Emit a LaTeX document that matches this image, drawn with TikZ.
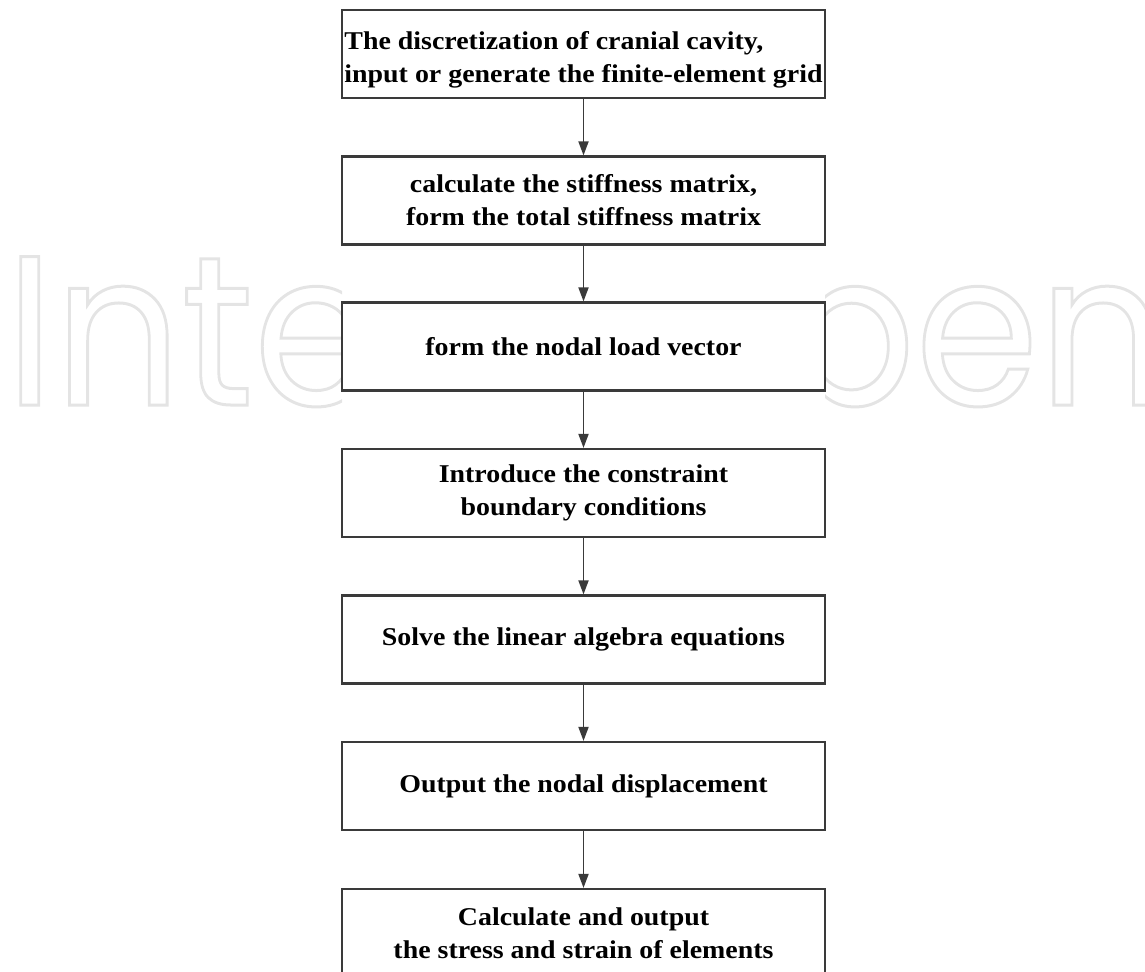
\documentclass[tikz,border=0pt]{standalone}
\usepackage{fontspec}
\setmainfont{Liberation Serif}[FakeStretch=1.09]
\newfontfamily\wmfont{Poppins}
\usetikzlibrary{arrows.meta}
\definecolor{boxgray}{HTML}{3A3A3A}
\definecolor{wmgray}{HTML}{E4E4E4}
\tikzset{
  flowbox/.style={draw=boxgray, line width=1.1pt, fill=white, minimum width=241.5pt, minimum height=44pt,
    inner sep=1pt, font=\fontsize{12.8}{16.5}\selectfont\bfseries, align=center},
  flowarrow/.style={-{Triangle[length=7pt,width=5pt]}, line width=0.9pt, draw=boxgray},
}
\begin{document}
\begin{tikzpicture}[x=0.5pt, y=-0.5pt]
  \useasboundingbox (0,0) rectangle (1145,971);
  \clip (0,0) rectangle (1145,971);
  % watermark, hidden in the column of the chart
  \begin{scope}
    \clip (0,0) rectangle (342,971) (825,0) rectangle (1145,971);
    \node[anchor=base west, inner sep=0pt, xscale=0.933, text=wmgray, font=\wmfont\fontsize{106.5}{106.5}\selectfont] (wm) at (5,405)
      {\special{pdf:literal direct 1 Tr 1.5 w}IntechOpen\special{pdf:literal direct 0 Tr}};
  \end{scope}
  % steps, top to bottom
  \node[flowbox, align=left] (grid) at (583.5,54) {\rule{0pt}{15pt}The discretization of cranial cavity,\\input or generate the finite-element grid};
  \node[flowbox] (stiff) at (583.5,200.5) {calculate the stiffness matrix,\\form the total stiffness matrix};
  \node[flowbox] (load) at (583.5,346.5) {form the nodal load vector};
  \node[flowbox] (bound) at (583.5,493) {Introduce the constraint\\ boundary conditions};
  \node[flowbox] (solve) at (583.5,639.5) {Solve the linear algebra equations};
  \node[flowbox] (disp) at (583.5,786) {Output the nodal displacement};
  \node[flowbox] (stress) at (583.5,933) {Calculate and output\\the stress and strain of elements};
  % arrows
  \foreach \a/\b in {grid/stiff, stiff/load, load/bound, bound/solve, solve/disp, disp/stress}
    \draw[flowarrow] (\a) -- (\b);
\end{tikzpicture}
\end{document}
